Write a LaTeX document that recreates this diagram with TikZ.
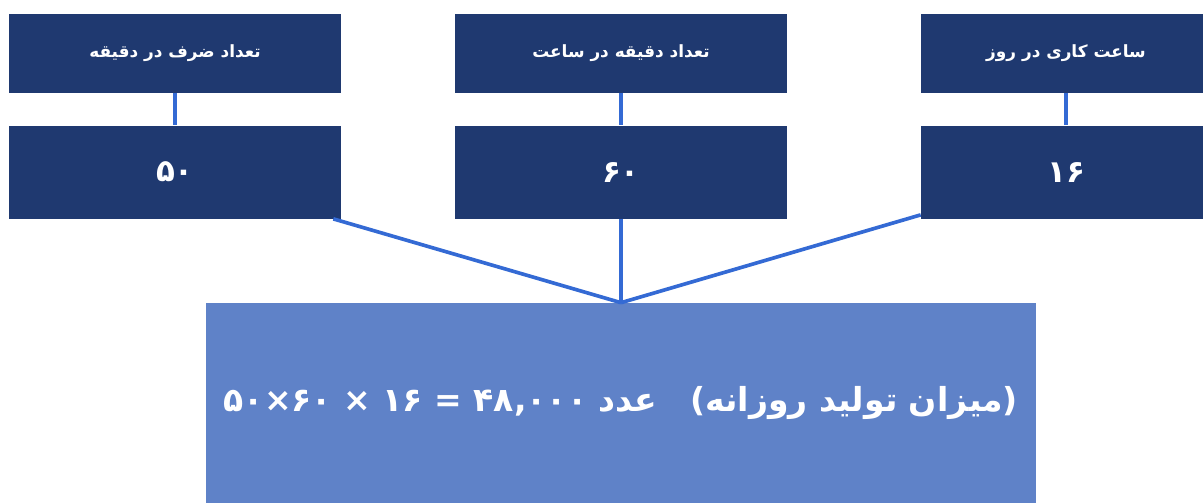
\documentclass[tikz,border=0pt]{standalone}
\usepackage{fontspec}
\newfontfamily\arabicfont[Script=Arabic]{DejaVu Sans}
\TeXXeTstate=1
\usetikzlibrary{positioning}
\definecolor{tcnavy}{RGB}{31,57,112}
\definecolor{tcline}{RGB}{52,106,212}
\definecolor{tcsky}{RGB}{95,130,200}

\begin{document}
\begin{tikzpicture}[
			x=0.025cm, y=-0.025cm,
			node distance=0.8cm,
			head/.style={rectangle, fill=tcnavy, inner sep=0pt, minimum width=8.3cm, minimum height=1.975cm, align=center, text=white, font=\arabicfont\bfseries\fontsize{12}{14}\selectfont},
			val/.style={rectangle, fill=tcnavy, inner sep=0pt, minimum width=8.3cm, minimum height=2.325cm, align=center, text=white, font=\arabicfont\bfseries\fontsize{22}{26}\selectfont},
			total/.style={rectangle, fill=tcsky, inner sep=0pt, minimum width=20.75cm, minimum height=5cm, align=center, text=white, font=\arabicfont\bfseries\fontsize{23.5}{28}\selectfont},
			tie/.style={draw=tcline, line width=2.2pt},
			link/.style={draw=tcline, line width=2.6pt}
		]
			\useasboundingbox (0,0) rectangle (1203,503);
			\node[head] (hsrv) at (175,53.5) {\beginR تعداد ضرف در دقیقه\endR};
			\node[head] (hmin) at (621,53.5) {\beginR تعداد دقیقه در ساعت\endR};
			\node[head, minimum width=7.25cm] (hhrs) at (1066,53.5) {\beginR ساعت کاری در روز\endR};
			\node[val, below=of hsrv] (vsrv) {۵۰};
			\node[val, below=of hmin] (vmin) {۶۰};
			\node[val, minimum width=7.25cm, below=of hhrs] (vhrs) {۱۶};
			\node[total] (prod) at (621,403) {\beginR(میزان تولید روزانه)\quad عدد \beginL۴۸,۰۰۰\endL{} = \beginL۱۶\endL{} × \beginL۶۰\endL×\beginL۵۰\endL\endR};
			
			\draw[tie] (hsrv) -- (vsrv);
			\draw[tie] (hmin) -- (vmin);
			\draw[tie] (hhrs) -- (vhrs);
			\draw[link] ([xshift=-0.2cm]vsrv.south east) -- (prod.north);
			\draw[link] (vmin.south) -- (prod.north);
			\draw[link] ([yshift=0.1cm]vhrs.south west) -- (prod.north);
		\end{tikzpicture}
\end{document}
